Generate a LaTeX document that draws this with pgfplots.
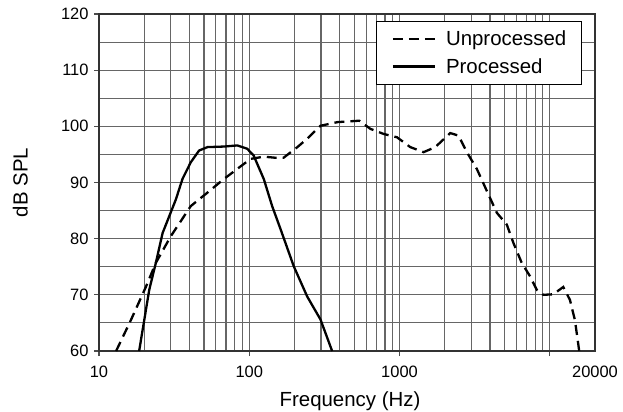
\documentclass[border=0pt]{standalone}
\usepackage{fontspec}
\setmainfont{Liberation Sans}
\usepackage{pgfplots}
\pgfplotsset{compat=1.18}

\begin{document}
\begin{tikzpicture}
\begin{axis}[
  name=ax,
  scale only axis,
  width=496bp, height=337bp,
  xmode=log,
  xmin=10, xmax=20000,
  ymin=60, ymax=120,
  xtick={10,100,1000,10000},
  xticklabels={10,100,1000,},
  extra x ticks={20000},
  extra x tick labels={20000},
  extra x tick style={grid=none, tick style={draw=none}},
  minor xtick={20,30,40,50,60,70,80,90,200,300,400,500,600,700,800,900,2000,3000,4000,5000,6000,7000,8000,9000},
  ytick={60,70,...,120},
  minor ytick={65,75,...,115},
  grid=both,
  major grid style={line width=1.1bp, draw=black!60},
  minor grid style={line width=1.1bp, draw=black!60},
  axis line style={line width=1.2bp, draw=black!80},
  tick align=outside,
  tick pos=left,
  major tick length=5bp,
  minor tick length=0pt,
  tick style={line width=1.1bp, draw=black!70},
  /pgf/number format/assume math mode=true,
  ticklabel style={font=\fontsize{16.5}{19}\selectfont},
  xticklabel style={yshift=-7bp},
  yticklabel style={xshift=-2bp},
  xlabel={Frequency (Hz)},
  ylabel={dB SPL},
  label style={font=\fontsize{20.5}{24}\selectfont},
  xlabel style={at={(axis description cs:0.5,0)}, anchor=base, yshift=-55.7bp, xshift=3bp, inner sep=0pt},
  ylabel style={at={(axis description cs:0,0.5)}, anchor=south, yshift=71bp, inner sep=0pt},
  legend style={at={(1,1)}, anchor=north east, xshift=-13bp, yshift=-7bp,
    draw=black, line width=1.3bp, fill=white,
    font=\fontsize{20.5}{24}\selectfont,
    nodes={inner sep=0pt}, column sep=0pt,
    inner xsep=15bp, inner ysep=9.5bp, row sep=11bp},
  legend cell align=left,
  legend image code/.code={\draw[#1, line width=2.3bp] (0bp,0bp) -- (42bp,0bp); \path (52bp,0bp);},
]
\addplot[black, line width=2.3bp, dash pattern=on 10bp off 6bp] coordinates {
  (13.0,60) (16.3,65.5) (20.5,71.4) (23.9,75.7) (30.0,80.4) (40.8,85.8)
  (52.7,88.2) (67.6,90.6) (102,94.2) (125,94.6) (150,94.4) (169,94.4)
  (209,96.3) (243,97.8) (298,100.1) (387,100.75) (471,100.9) (540,101.0)
  (640,99.55) (783,98.65) (961,98.06) (1180,96.3) (1446,95.4) (1730,96.3)
  (2175,98.8) (2470,98.35) (2808,95.4) (3272,92.4) (3812,88.5) (4445,84.6)
  (5176,82.5) (5726,79.25) (6505,75.7) (7390,73.3) (8190,70.9) (9060,70.0)
  (10560,70.1) (12300,71.4) (13620,69.1) (14700,65.5) (15700,60.0)
};
\addlegendentry{Unprocessed}
\addplot[black, line width=2.3bp] coordinates {
  (18.5,60) (21.6,70.9) (23.9,75.7) (26.5,81.0) (32.5,87.0) (35.9,90.6)
  (40.8,93.6) (46.4,95.7) (52.7,96.3) (67.7,96.4) (83.3,96.6) (97,96.0)
  (107,94.8) (125,90.6) (142,85.8) (162,81.6) (198,75.05) (243,69.7)
  (298,65.6) (356,60)
};
\addlegendentry{Processed}
\end{axis}
\useasboundingbox ([shift={(-99bp,-61bp)}]ax.south west) rectangle ([shift={(28bp,14bp)}]ax.north east);
\end{tikzpicture}
\end{document}
